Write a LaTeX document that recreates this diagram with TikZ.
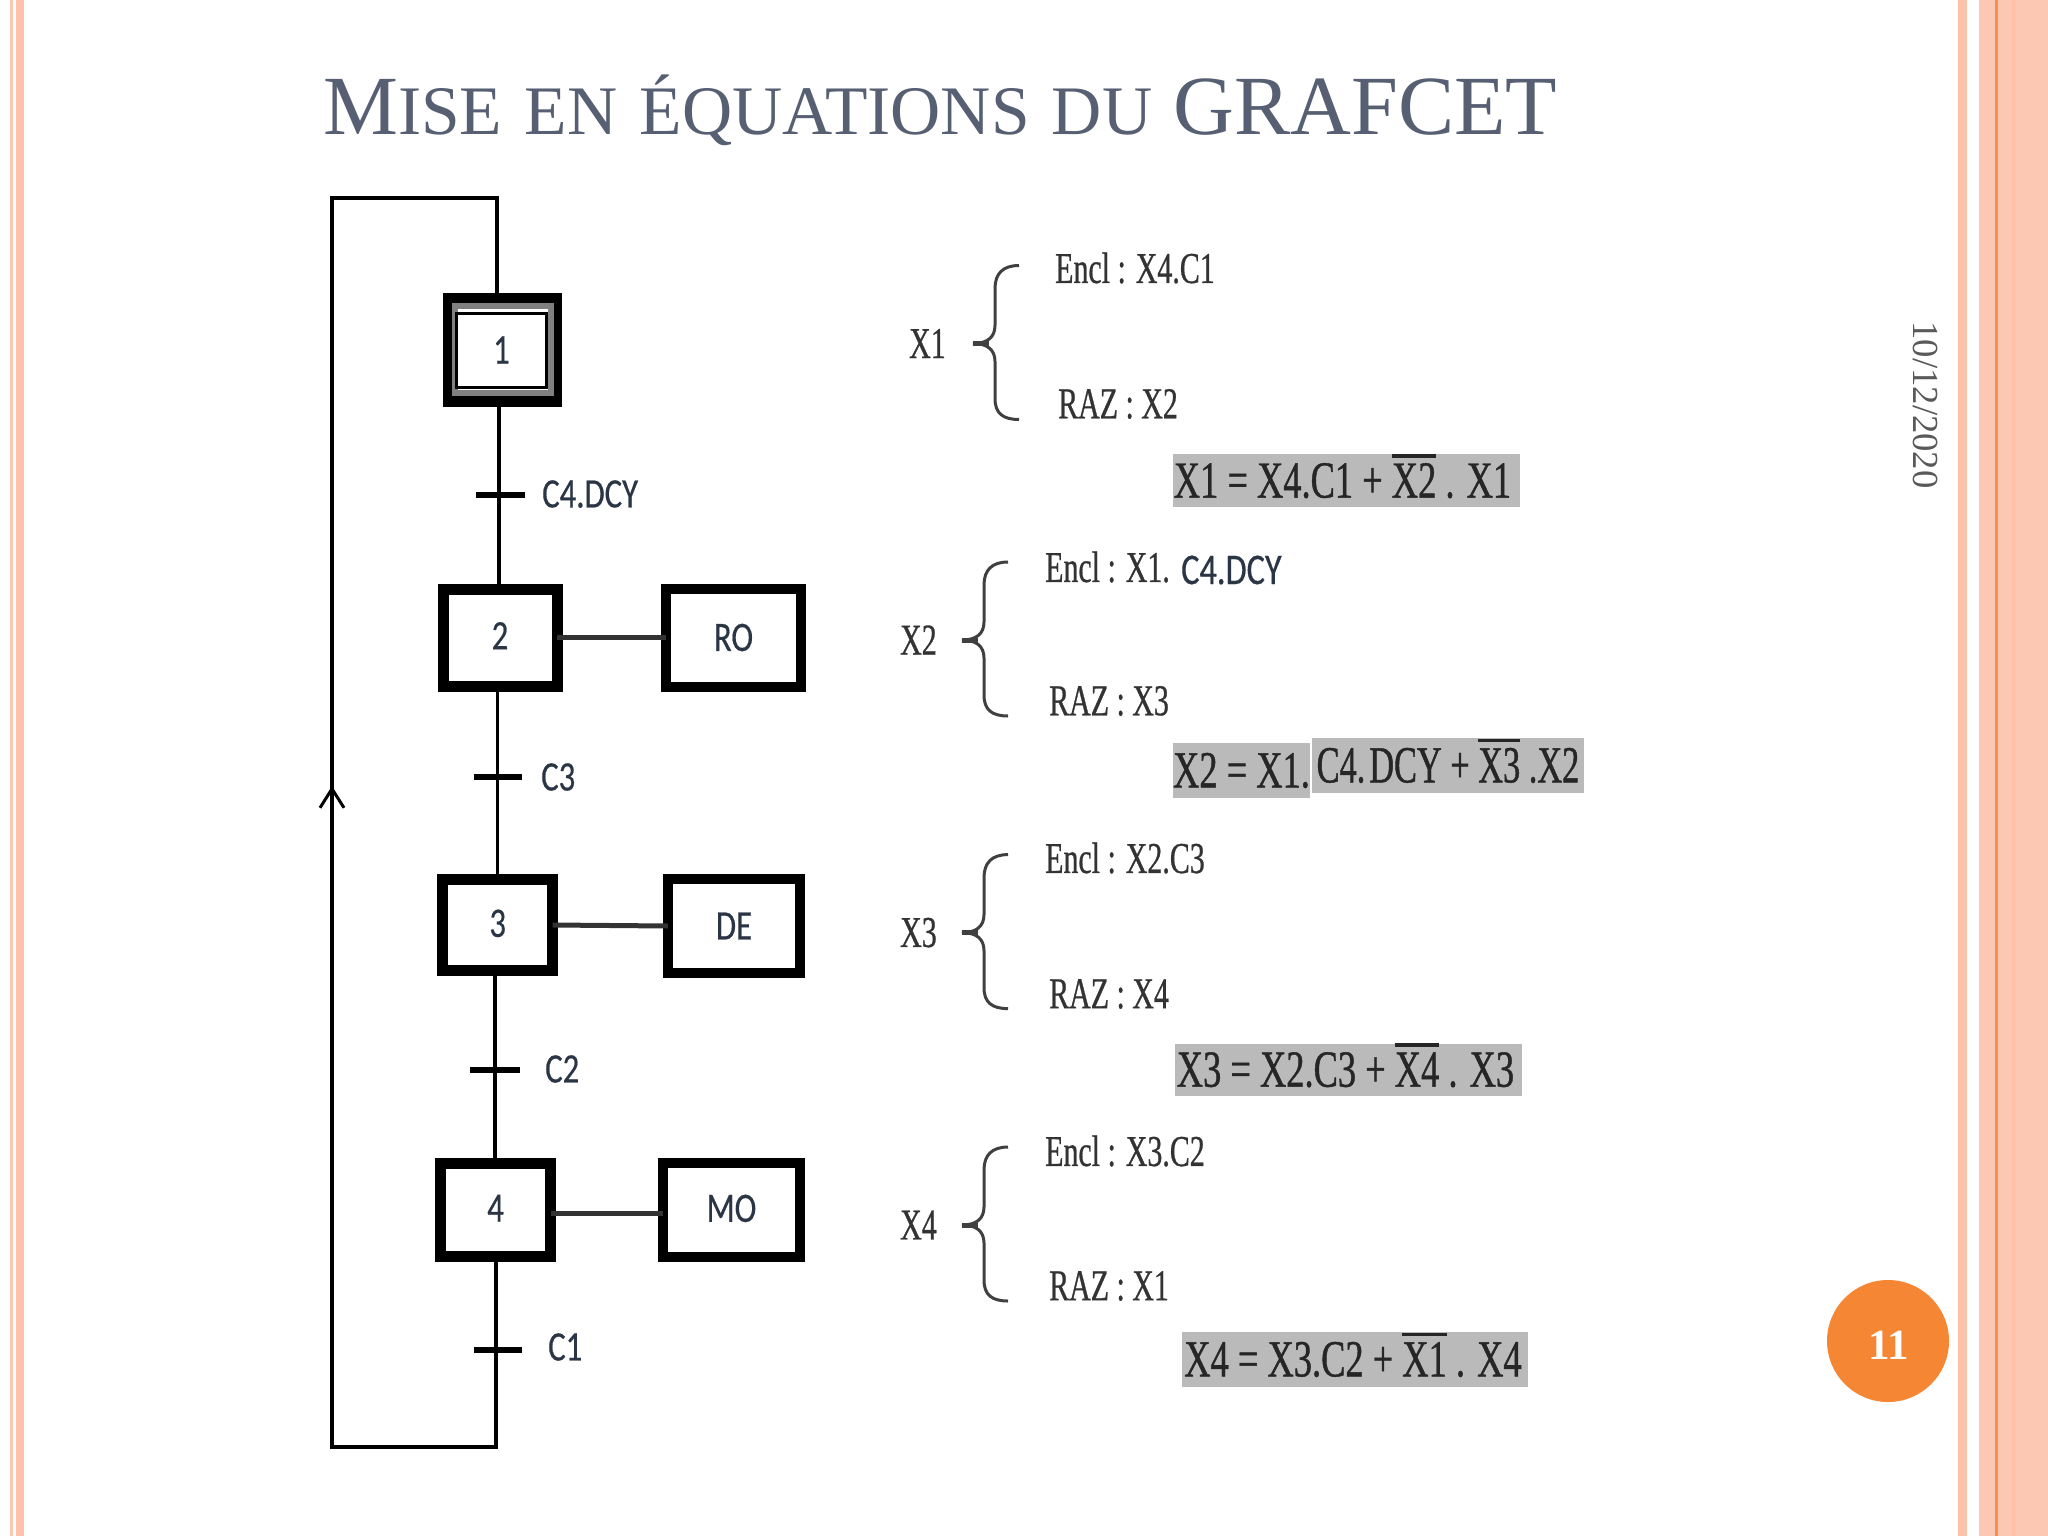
\documentclass[tikz,border=0pt]{standalone}
\usepackage{fontspec}
\setmainfont{Liberation Serif}
\newfontfamily\carl[FakeStretch=0.78,FakeBold=0.4]{Carlito}
\newfontfamily\narr[FakeStretch=0.68,FakeBold=0.6]{Liberation Serif}
\newfontfamily\narb[FakeStretch=0.70,FakeBold=0.8]{Liberation Serif}
\newfontfamily\narc[FakeStretch=0.66,FakeBold=0.8]{Liberation Serif}
\usetikzlibrary{arrows.meta}
\definecolor{stripe}{HTML}{FDC8B3}
\definecolor{stripeb}{HTML}{FEC2AA}
\definecolor{stripeo}{HTML}{F98F4E}
\definecolor{titlec}{HTML}{575F73}
\definecolor{badge}{HTML}{F58634}
\definecolor{boxg}{HTML}{BABABA}
\definecolor{labc}{HTML}{2A3545}
\newsavebox\ovlbox
\newcommand\ovl[1]{\sbox\ovlbox{#1}\rlap{\smash{\raisebox{40pt}{\rule{\wd\ovlbox}{3.5pt}}}}\usebox\ovlbox}
\newcommand\up[1]{\raisebox{3.5pt}{#1}}
\newcommand\lf{\fontsize{42}{42}\selectfont\carl}
\newcommand\ef{\fontsize{44}{44}\selectfont\narr}
\newcommand\ff{\fontsize{52}{52}\selectfont\narb}
\tikzset{
  x=1pt,y=-1pt,
  stepbox/.style={draw=black,line width=11pt,inner sep=0pt,outer sep=0pt,font=\lf,text=labc},
  actbox/.style={draw=black,line width=10pt,inner sep=0pt,outer sep=0pt,font=\lf,text=labc},
  wire/.style={draw=black,line width=3.5pt},
  link/.style={draw=black!80,line width=5pt},
  tick/.style={draw=black,line width=6.5pt},
  lab/.style={font=\lf,text=labc,inner sep=0pt,anchor=west},
  eqt/.style={font=\ef,text=black!80,inner sep=0pt,anchor=west},
  eqbox/.style={fill=boxg,font=\ff,text=black!85,inner sep=0pt,outer sep=0pt},
  bracesym/.pic={\draw[draw=black!75,line width=3pt]
     (46,-78) .. controls (30,-78) and (22,-70) .. (22,-55) -- (22,-18)
     .. controls (22,-6) and (14,0) .. (0,0)
     .. controls (14,0) and (22,6) .. (22,18) -- (22,55)
     .. controls (22,70) and (30,76) .. (46,76);
     \draw[draw=black!75,line width=5pt] (0,0) -- (16,0);}
}
\begin{document}
\begin{tikzpicture}
\useasboundingbox (0,0) rectangle (2048,1536);
\fill[white] (0,0) rectangle (2048,1536);
% page stripes
\fill[stripe] (10,0) rectangle (13,1536);
\fill[stripeb] (16,0) rectangle (24,1536);
\fill[stripeb] (1958,0) rectangle (1967,1536);
\fill[stripe] (1979,0) rectangle (2048,1536);
\fill[stripeo] (1995,0) rectangle (1998,1536);
\fill[stripeb] (2012,0) rectangle (2016,1536);
% title
\node[anchor=base west,inner sep=0pt,text=titlec] (title) at (323,134.5)
 {\fontsize{84.2}{84.2}\selectfont M\fontsize{69.5}{69.5}\selectfont ISE\kern5pt\ EN\kern5pt\ ÉQUATIONS\kern5pt\ DU\kern4pt\ \fontsize{84.2}{84.2}\selectfont GRAFCET};
% date and page number
\node[rotate=-90,inner sep=0pt,text=black!65,font=\fontsize{36.7}{36.7}\selectfont] (date) at (1926,405) {10/12/2020};
\node[circle,fill=badge,minimum size=122pt,inner sep=0pt] (page) at (1888,1341) {};
\node[inner sep=0pt,text=white,font=\fontsize{43}{43}\selectfont\bfseries] (pagen) at (1889,1345) {11};
% routing coordinates
\coordinate (t1) at (499,495);
\coordinate (t2) at (497.5,777);
\coordinate (t3) at (495,1070);
\coordinate (t4) at (496,1350);
\coordinate (lt) at (332,198);
\coordinate (rt) at (497,198);
\coordinate (lb) at (332,1447);
\coordinate (rb) at (496,1447);
\coordinate (ah) at (332,786);
% steps
\node[stepbox,minimum width=108pt,minimum height=103pt] (s1) at (502.5,350) {};
\node[draw=black!50,line width=6pt,minimum width=96pt,minimum height=87pt,inner sep=0pt] (s1g) at (503,349.5) {};
\node[draw=black,line width=3pt,minimum width=90pt,minimum height=74pt,inner sep=0pt,font=\lf,text=labc] (s1i) at (501.5,350) {1};
\node[stepbox,minimum width=114pt,minimum height=97pt] (s2) at (500,637.5) {\up{2}};
\node[stepbox,minimum width=110pt,minimum height=91pt] (s3) at (497.7,925) {\up{3}};
\node[stepbox,minimum width=110pt,minimum height=93pt] (s4) at (495.5,1210) {\up{4}};
% actions
\node[actbox,minimum width=135pt,minimum height=98pt] (a2) at (733.5,637.5) {RO};
\node[actbox,minimum width=132pt,minimum height=94pt] (a3) at (734,926) {DE};
\node[actbox,minimum width=137pt,minimum height=94pt] (a4) at (731.5,1210) {\up{MO}};
% connectors
\draw[wire] (s1.south -| t1) -- (s2.north -| t1);
\draw[wire] (s2.south -| t2) -- (s3.north -| t2);
\draw[wire] (s3.south -| t3) -- (s4.north -| t3);
\draw[wire] (s4.south -| t4) -- (rb) -- (lb) -- (lt) -- (rt) -- (s1.north -| rt);
\draw[wire,-{Straight Barb[length=19pt,width=24pt,line width=3pt]}] (lb) -- (ah);
\draw[link] (s2.east) -- (a2.west);
\draw[link] (s3.east) -- (a3.west);
\draw[link] (s4.east |- 0,1213) -- (a4.west |- 0,1213);
% transitions
\draw[tick] (476,495) -- (t1) -- (525,495);
\draw[tick] (474,777) -- (t2) -- (522,777);
\draw[tick] (470,1070) -- (t3) -- (520,1070);
\draw[tick] (474,1350) -- (t4) -- (522,1350);
\node[lab] (c1) at (542,494) {C4.DCY};
\node[lab] (c2) at (541,777) {C3};
\node[lab] (c3) at (545,1069) {C2};
\node[lab] (c4) at (548,1347) {C1};
% equations X1
\node[eqt] (x1) at (909,343.5) {X1};
\pic at (973,343.5) {bracesym};
\node[eqt] (e1) at (1055,268) {Encl : X4.C1};
\node[eqt] (r1) at (1058,404) {RAZ : X2};
\node[eqbox,minimum width=347pt,minimum height=52.5pt] (f1) at (1346.5,480.7) {X1 = X4.C1 + \ovl{X2} . X1\hspace{8pt}\null};
% equations X2
\node[eqt] (x2) at (900,640) {X2};
\pic at (962,640) {bracesym};
\node[eqt] (e2) at (1045,567) {Encl : X1.};
\node[lab,font=\fontsize{44}{44}\selectfont\carl] (e2b) at (1181,570) {C4.DCY};
\node[eqt] (r2) at (1049,701) {RAZ : X3};
\node[eqbox,minimum width=272pt,minimum height=55pt,font=\fontsize{52}{52}\selectfont\narc] (f2b) at (1448,765.5) {C4.\kern4pt DCY + \ovl{X3} .X2};
\node[eqbox,minimum width=137pt,minimum height=55pt] (f2a) at (1241.5,770.5) {X2 = X1.};
% equations X3
\node[eqt] (x3) at (900,932.6) {X3};
\pic at (962,932.6) {bracesym};
\node[eqt] (e3) at (1045,858) {Encl : X2.C3};
\node[eqt] (r3) at (1049,994) {RAZ : X4};
\node[eqbox,minimum width=347pt,minimum height=52.5pt] (f3) at (1348.5,1069.8) {X3 = X2.C3 + \ovl{X4} . X3\hspace{6pt}\null};
% equations X4
\node[eqt] (x4) at (900,1225) {X4};
\pic at (962,1225) {bracesym};
\node[eqt] (e4) at (1045,1151) {Encl : X3.C2};
\node[eqt] (r4) at (1049,1286) {RAZ : X1};
\node[eqbox,minimum width=346pt,minimum height=55pt] (f4) at (1355,1359.5) {X4 = X3.C2 + \ovl{X1} . X4\hspace{4pt}\null};
\end{tikzpicture}
\end{document}
